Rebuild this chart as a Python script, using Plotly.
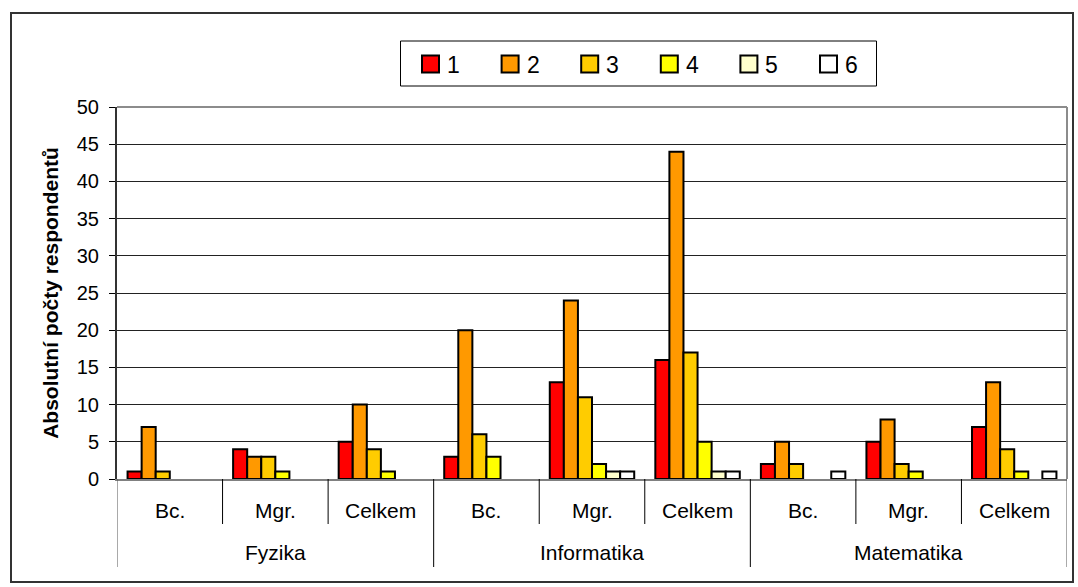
import plotly.graph_objects as go

# Study programmes and levels along the category axis
fields = ["Fyzika", "Informatika", "Matematika"]
levels = ["Bc.", "Mgr.", "Celkem"]

# Answer grades (legend) and their fill colours
grades = ["1", "2", "3", "4", "5", "6"]
colors = ["#FF0000", "#FF9900", "#FFCC00", "#FFFF00", "#FFFFCC", "#FFFFFF"]

# Counts per grade, in order: Fyzika Bc./Mgr./Celkem, Informatika ..., Matematika ...
grade_1 = [1, 4, 5, 3, 13, 16, 2, 5, 7]
grade_2 = [7, 3, 10, 20, 24, 44, 5, 8, 13]
grade_3 = [1, 3, 4, 6, 11, 17, 2, 2, 4]
grade_4 = [0, 1, 1, 3, 2, 5, 0, 1, 1]
grade_5 = [0, 0, 0, 0, 1, 1, 0, 0, 0]
grade_6 = [0, 0, 0, 0, 1, 1, 1, 0, 1]
series = [grade_1, grade_2, grade_3, grade_4, grade_5, grade_6]

yticks = [0, 5, 10, 15, 20, 25, 30, 35, 40, 45, 50]

FONT = "Arial, Liberation Sans, sans-serif"

# Pixel layout of the plot area inside the 1078x587 page
W, H = 1078, 587
L, R, T, B = 117, 1067, 107, 479
pw, ph = R - L, B - T


def px_x(px):
    return (px - L) / pw


def px_y(py):
    return (B - py) / ph


n_cat = len(fields) * len(levels)
xpos = list(range(n_cat))

fig = go.Figure()
for name, col, vals in zip(grades, colors, series):
    # empty categories are left blank rather than drawn as flat outlines
    shown = [v if v else None for v in vals]
    fig.add_trace(go.Bar(
        x=xpos, y=shown, name=name, showlegend=False,
        marker=dict(color=col, line=dict(color="black", width=2)),
    ))

shapes = []
# outer chart frame
shapes.append(dict(type="rect", xref="paper", yref="paper",
                   x0=px_x(11), x1=px_x(1073), y0=px_y(582), y1=px_y(13),
                   line=dict(color="#333333", width=2), fillcolor="rgba(0,0,0,0)",
                   layer="below"))
# plot-area border (top and right)
shapes.append(dict(type="line", xref="paper", yref="paper", x0=0, x1=1, y0=1, y1=1,
                   line=dict(color="#8c8c8c", width=2)))
shapes.append(dict(type="line", xref="paper", yref="paper", x0=1, x1=1, y0=0, y1=1,
                   line=dict(color="#8c8c8c", width=2)))

# category separators below the axis
for i in range(n_cat + 1):
    xb = i - 0.5
    if i % len(levels) == 0:
        y_end = px_y(567)
        col = "#555555" if i in (0, n_cat) else "black"
    else:
        y_end = px_y(524)
        col = "black"
    shapes.append(dict(type="line", xref="x", yref="paper", x0=xb, x1=xb,
                       y0=0, y1=y_end, line=dict(color=col, width=1)))

annotations = []
for i in range(n_cat):
    annotations.append(dict(x=i, y=px_y(510), xref="x", yref="paper",
                            text=levels[i % len(levels)], showarrow=False,
                            font=dict(family=FONT, size=21, color="black"),
                            xanchor="center", yanchor="middle"))
for g, f in enumerate(fields):
    annotations.append(dict(x=g * len(levels) + 1, y=px_y(552), xref="x", yref="paper",
                            text=f, showarrow=False,
                            font=dict(family=FONT, size=21, color="black"),
                            xanchor="center", yanchor="middle"))

# legend box with one swatch per grade
shapes.append(dict(type="rect", xref="paper", yref="paper",
                   x0=px_x(400.5), x1=px_x(876.5), y0=px_y(86), y1=px_y(41),
                   line=dict(color="black", width=1), fillcolor="white"))
step = 79.6
for k, (name, col) in enumerate(zip(grades, colors)):
    sx = 422 + step * k
    shapes.append(dict(type="rect", xref="paper", yref="paper",
                       x0=px_x(sx), x1=px_x(sx + 17), y0=px_y(72.5), y1=px_y(55.5),
                       line=dict(color="black", width=2), fillcolor=col))
    annotations.append(dict(x=px_x(sx + 23), y=px_y(64.5), xref="paper", yref="paper",
                            text=name, showarrow=False,
                            font=dict(family=FONT, size=23, color="black"),
                            xanchor="left", yanchor="middle"))

fig.update_layout(
    width=W, height=H,
    margin=dict(l=L, r=W - R, t=T, b=H - B, pad=0),
    paper_bgcolor="white", plot_bgcolor="white",
    barmode="group", bargap=0.2, bargroupgap=0,
    font=dict(family=FONT, size=20, color="black"),
    showlegend=False,
    xaxis=dict(range=[-0.5, n_cat - 0.5], showticklabels=False, ticks="",
               showgrid=False, zeroline=False, showline=True,
               linecolor="#808080", linewidth=2, fixedrange=True),
    yaxis=dict(range=[0, 50], tickvals=yticks, ticks="outside", ticklen=6,
               tickcolor="black", showgrid=True, gridcolor="#222222", gridwidth=1,
               zeroline=False, showline=True, linecolor="#333333", linewidth=2,
               ticklabelstandoff=6,
               tickfont=dict(family=FONT, size=20, color="black"),
               title=dict(text="<b>Absolutní počty respondentů</b>",
                          font=dict(family=FONT, size=21, color="black"),
                          standoff=12)),
    shapes=shapes,
    annotations=annotations,
)

fig.write_html("out.html")
